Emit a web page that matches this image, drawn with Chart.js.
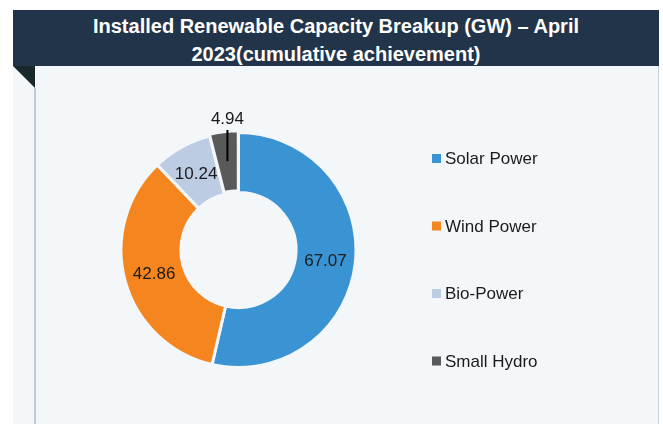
<!DOCTYPE html>
<html>
<head>
<meta charset="utf-8">
<script src="https://cdn.jsdelivr.net/npm/chart.js@4"></script>
<style>
  html, body { margin: 0; padding: 0; background: #ffffff; width: 663px; height: 424px; overflow: hidden; }
  #banner { position: absolute; left: 13px; top: 10px; width: 646px; height: 56px; background: #22344a;
    color: #ffffff; font-family: "Liberation Sans", Arial, sans-serif; font-weight: bold; font-size: 20px;
    line-height: 28px; text-align: center; box-sizing: border-box; padding-top: 2px; }
  #panel { position: absolute; left: 13px; top: 66px; width: 646px; height: 358px; background: #f3f7f9;
    border-right: 1px solid #c9d0da; box-sizing: border-box; }
  #vline { position: absolute; left: 34px; top: 88px; width: 2px; height: 336px; background: #c3c7d3; }
  #fold { position: absolute; left: 13px; top: 66px; width: 0; height: 0;
    border-top: 22px solid #18282b; border-left: 22px solid transparent; }
  #c { position: absolute; left: 0; top: 0; }
</style>
</head>
<body>
<div id="panel"></div>
<div id="vline"></div>
<div id="fold"></div>
<div id="banner">Installed Renewable Capacity Breakup (GW) – April<br>2023(cumulative achievement)</div>
<canvas id="c" width="663" height="424"></canvas>
<script>
const categories = ["Solar Power", "Wind Power", "Bio-Power", "Small Hydro"];
const capacityGW = [67.07, 42.86, 10.24, 4.94];
const valueLabels = ["67.07", "42.86", "10.24", "4.94"];
const sliceColors = ["#3a93d2", "#f5861f", "#bccde3", "#595959"];

const FONT = '"Liberation Sans", Arial, sans-serif';

const labelPlugin = {
  id: 'valueLabels',
  afterDatasetsDraw(chart) {
    const ctx = chart.ctx;
    const meta = chart.getDatasetMeta(0);
    ctx.save();
    ctx.font = '17px ' + FONT;
    ctx.fillStyle = '#1a1a1a';
    ctx.textAlign = 'center';
    meta.data.forEach((arc, i) => {
      const p = arc.tooltipPosition();
      if (i === 3) {
        const off = arc.options.offset || 0;
        const R = arc.outerRadius + off;
        const dx = p.x - arc.x;
        const topY = arc.y - Math.sqrt(R * R - dx * dx) + 1;
        ctx.strokeStyle = '#000000';
        ctx.lineWidth = 2;
        ctx.beginPath();
        ctx.moveTo(p.x, p.y);
        ctx.lineTo(p.x, topY);
        ctx.stroke();
        ctx.textBaseline = 'alphabetic';
        ctx.fillText(valueLabels[i], p.x, topY - 6);
      } else {
        ctx.textBaseline = 'middle';
        ctx.fillText(valueLabels[i], p.x, p.y + 1);
      }
    });
    // legend
    ctx.font = '17px ' + FONT;
    ctx.textAlign = 'left';
    ctx.textBaseline = 'middle';
    chart.data.labels.forEach((lab, i) => {
      const cy = 158.5 + i * 67.5;
      ctx.fillStyle = chart.data.datasets[0].backgroundColor[i];
      ctx.fillRect(432, cy - 4.5, 9, 9);
      ctx.fillStyle = '#1b1b1b';
      ctx.fillText(lab, 445, cy + 1);
    });
    ctx.restore();
  }
};

new Chart(document.getElementById('c'), {
  type: 'doughnut',
  data: {
    labels: categories,
    datasets: [{
      data: capacityGW,
      backgroundColor: sliceColors,
      borderColor: '#f3f7f9',
      borderWidth: 3,
      offset: [0, 0, 0, 4]
    }]
  },
  options: {
    responsive: false,
    animation: false,
    cutout: '49%',
    layout: { padding: { left: 117.5, top: 129, right: 303.5, bottom: 53 } },
    plugins: { legend: { display: false }, tooltip: { enabled: false }, title: { display: false } }
  },
  plugins: [labelPlugin]
});
</script>
</body>
</html>
